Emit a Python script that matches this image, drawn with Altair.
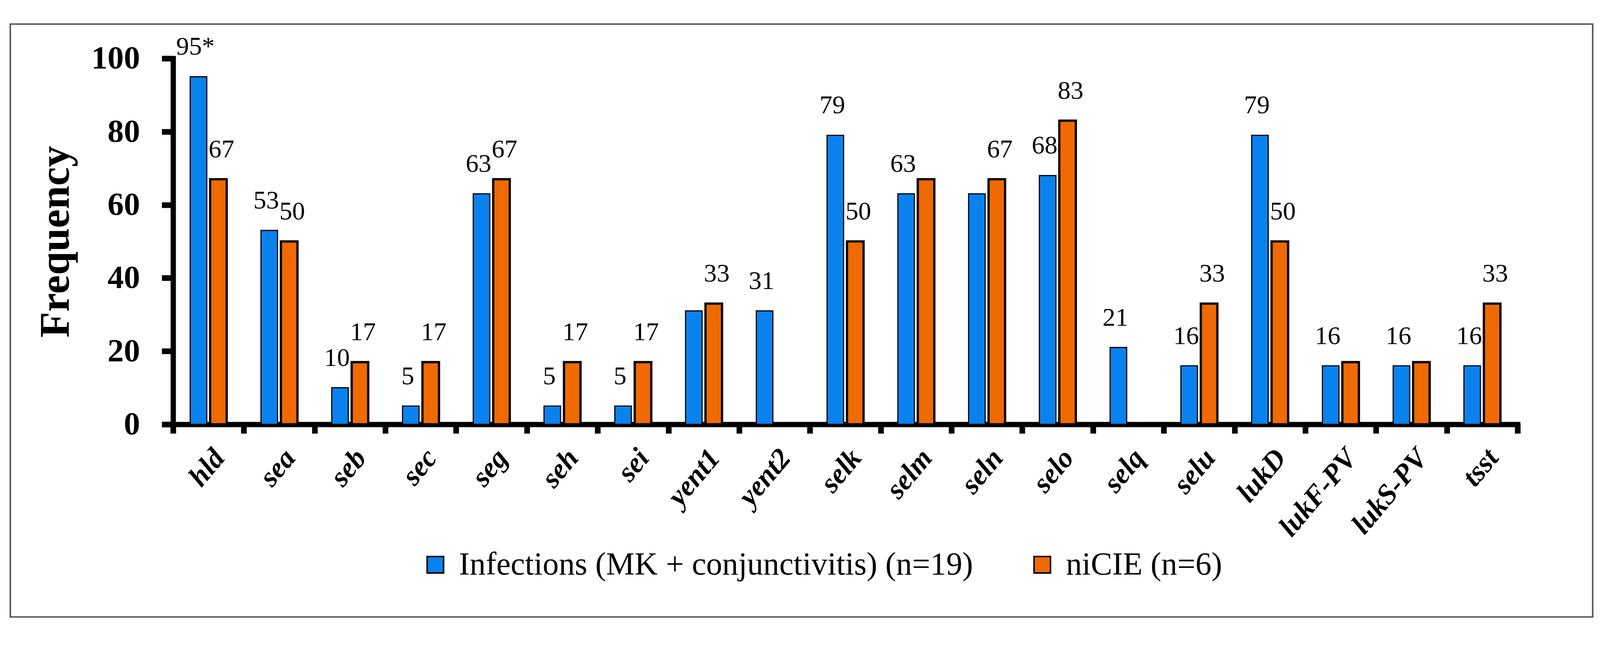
import altair as alt
import pandas as pd

categories = ["hld", "sea", "seb", "sec", "seg", "seh", "sei", "yent1", "yent2",
              "selk", "selm", "seln", "selo", "selq", "selu", "lukD", "lukF-PV",
              "lukS-PV", "tsst"]
infections = [95, 53, 10, 5, 63, 5, 5, 31, 31, 79, 63, 63, 68, 21, 16, 79, 16, 16, 16]
nicie = [67, 50, 17, 17, 67, 17, 17, 33, 0, 50, 67, 67, 83, 0, 33, 50, 17, 17, 33]
infection_labels = ["95*", "53", "10", "5", "63", "5", "5", "", "31", "79", "63", "",
                    "68", "21", "16", "79", "16", "16", "16"]
nicie_labels = ["67", "50", "17", "17", "67", "17", "17", "33", "", "50", "", "67",
                "83", "", "33", "50", "", "", "33"]
series_names = ["Infections (MK + conjunctivitis) (n=19)", "niCIE (n=6)"]
colors = ["#0A82EE", "#EF6A00"]

rows = []
for i, c in enumerate(categories):
    rows.append({"gene": c, "series": series_names[0], "value": infections[i],
                 "label": infection_labels[i], "order": 0})
    rows.append({"gene": c, "series": series_names[1], "value": nicie[i],
                 "label": nicie_labels[i], "order": 1})
df = pd.DataFrame(rows)

FONT = "Liberation Serif"
W, H = 3560, 969

x_enc = alt.X(
    "gene:N", sort=categories,
    scale=alt.Scale(paddingInner=0, paddingOuter=0),
    axis=alt.Axis(title=None, labelAngle=-50, labelAlign="right", labelBaseline="top",
                  labelFont=FONT, labelFontSize=76, labelFontWeight="bold",
                  labelFontStyle="italic", labelColor="black", labelPadding=28,
                  labelLimit=0, tickBand="extent", tickSize=24, tickWidth=15,
                  tickColor="black", domainColor="black", domainWidth=14,
                  domainCap="square", grid=False, labelOverlap=False),
)
xoff = alt.XOffset("series:N", sort=series_names,
                   scale=alt.Scale(paddingInner=0.17, paddingOuter=0.86))
y_enc = alt.Y(
    "value:Q",
    scale=alt.Scale(domain=[0, 100], nice=False),
    axis=alt.Axis(values=[0, 20, 40, 60, 80, 100], title="Frequency",
                  titleFont=FONT, titleFontSize=112, titleFontWeight="bold",
                  titleColor="black", titleAngle=-90, titleX=-277, titleY=485,
                  titleAlign="center", titleBaseline="alphabetic",
                  labelFont=FONT, labelFontSize=86, labelFontWeight="bold",
                  labelColor="black", labelPadding=58, tickSize=30, tickWidth=15,
                  tickColor="black", domainColor="black", domainWidth=14,
                  domainCap="square", grid=False),
)
color = alt.Color(
    "series:N", sort=series_names,
    scale=alt.Scale(domain=series_names, range=colors),
    legend=alt.Legend(title=None, orient="none", legendX=652, legendY=1298,
                      direction="horizontal", symbolType="square", symbolSize=1900,
                      symbolStrokeColor="black", symbolStrokeWidth=4,
                      symbolOpacity=1, labelFont=FONT, labelFontSize=85,
                      labelColor="black", labelOffset=20, columnPadding=140,
                      labelLimit=0, padding=0),
)

bars = alt.Chart(df).mark_bar(stroke="black").encode(
    x=x_enc, xOffset=xoff, y=y_enc, color=color,
    strokeWidth=alt.condition(alt.datum.order == 1, alt.value(6), alt.value(3)),
)

text_blue = alt.Chart(df).transform_filter(alt.datum.order == 0).mark_text(
    font=FONT, fontSize=68, color="black", dy=-58, dx=-8,
    baseline="alphabetic", align="center"
).encode(x=x_enc, xOffset=xoff, y=y_enc, text="label:N")

text_orange = alt.Chart(df).transform_filter(alt.datum.order == 1).mark_text(
    font=FONT, fontSize=68, color="black", dy=-58, dx=8,
    baseline="alphabetic", align="center"
).encode(x=x_enc, xOffset=xoff, y=y_enc, text="label:N")

border = alt.Chart(alt.Data(values=[{}])).mark_rect(
    fillOpacity=0, stroke="#555555", strokeWidth=4
).encode(
    x=alt.value(-431), x2=alt.value(3759), y=alt.value(-91), y2=alt.value(1479)
)

chart = alt.layer(bars, text_blue, text_orange, border).properties(
    width=W, height=H,
    autosize=alt.AutoSizeParams(type="none"),
    padding={"left": 450, "top": 119, "right": 210, "bottom": 515},
).configure_view(strokeWidth=0)

chart.save("out.html", embed_options={"renderer": "svg", "actions": False})
